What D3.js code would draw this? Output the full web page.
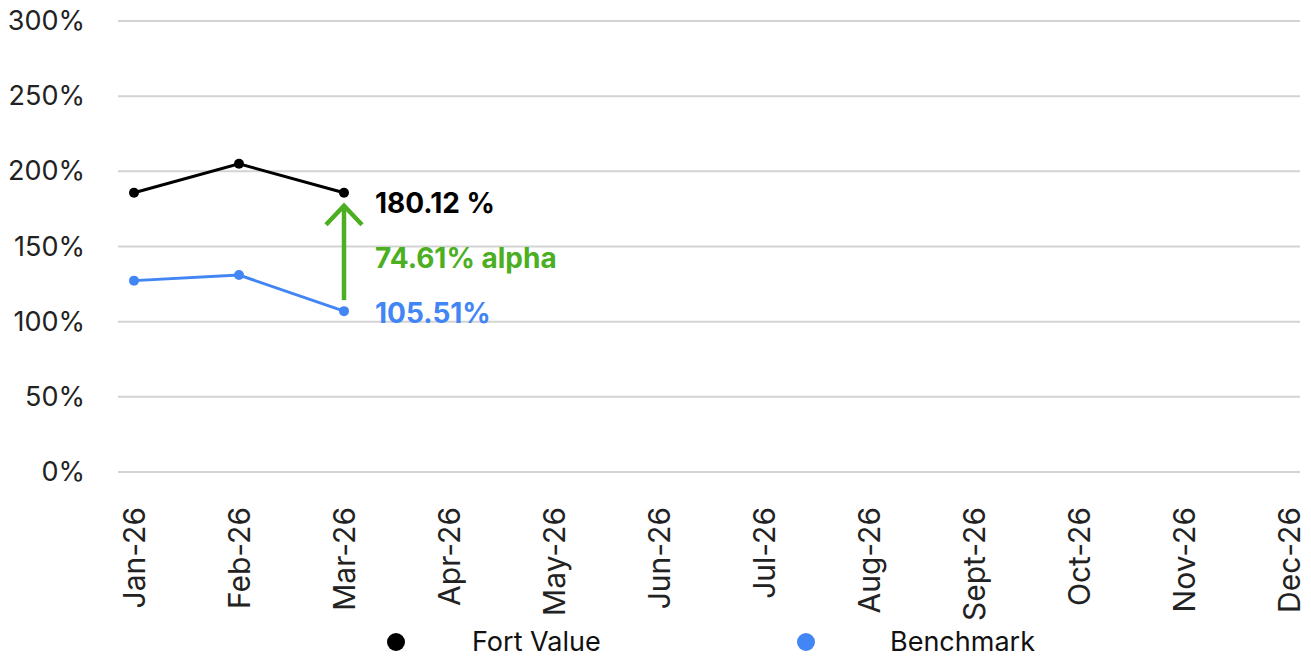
<!DOCTYPE html>
<html>
<head>
<script src="https://d3js.org/d3.v7.min.js"></script>
<style>
  body { margin: 0; background: #fff; }
  svg text { font-family: Inter, 'Noto Sans', sans-serif; }
</style>
</head>
<body>
<svg id="chart"></svg>
<script>
var months = ["Jan-26","Feb-26","Mar-26","Apr-26","May-26","Jun-26","Jul-26","Aug-26","Sept-26","Oct-26","Nov-26","Dec-26"];
var fortValue = [185.8, 205.0, 185.8];
var benchmark = [127.3, 131.0, 107.0];
var yTicks = [0, 50, 100, 150, 200, 250, 300];
var seriesNames = ["Fort Value", "Benchmark"];
var seriesColors = ["#000000", "#4285f4"];
var labels = ["180.12 %", "74.61% alpha", "105.51%"];
var alphaColor = "#4caf22";

var width = 1311, height = 659;
var svg = d3.select('#chart').attr('width', width).attr('height', height);

var x = d3.scalePoint().domain(months).range([134, 1289]);
var y = d3.scaleLinear().domain([0, 300]).range([472, 21]);

// gridlines
svg.append('g').selectAll('line')
  .data(yTicks).enter().append('line')
  .attr('x1', 118).attr('x2', 1300)
  .attr('y1', function(d) { return y(d); })
  .attr('y2', function(d) { return y(d); })
  .attr('stroke', '#d3d3d3').attr('stroke-width', 2);

// y axis
var yAxis = svg.append('g').attr('transform', 'translate(118,0)')
  .call(d3.axisLeft(y).tickValues(yTicks).tickSize(0).tickPadding(33).tickFormat(function(d) { return d + '%'; }));
yAxis.select('.domain').remove();
yAxis.selectAll('text').attr('font-size', 27).attr('fill', '#222').attr('font-family', 'Inter, sans-serif');

// x axis
var xAxis = svg.append('g').attr('transform', 'translate(0,472)')
  .call(d3.axisBottom(x).tickSize(0).tickPadding(0));
xAxis.select('.domain').remove();
xAxis.selectAll('text')
  .attr('font-size', 30).attr('fill', '#222')
  .attr('font-family', "'Liberation Sans', Arial, sans-serif")
  .attr('text-anchor', 'end')
  .attr('dy', '0.35em')
  .attr('transform', 'translate(0,35) rotate(-90)')
  .attr('y', 0).attr('x', 0);

var line = d3.line()
  .x(function(d, i) { return x(months[i]); })
  .y(function(d) { return y(d); });

[fortValue, benchmark].forEach(function(s, k) {
  svg.append('path').datum(s)
    .attr('d', line).attr('fill', 'none')
    .attr('stroke', seriesColors[k]).attr('stroke-width', 3);
  svg.selectAll(null).data(s).enter().append('circle')
    .attr('cx', function(d, i) { return x(months[i]); })
    .attr('cy', function(d) { return y(d); })
    .attr('r', 5).attr('fill', seriesColors[k]);
});

// alpha arrow
var last = fortValue.length - 1;
var ax = x(months[last]);
var yTop = y(fortValue[last]) + 13;
var yBot = y(benchmark[last]) - 11;
svg.append('line').attr('x1', ax).attr('x2', ax).attr('y1', yTop).attr('y2', yBot)
  .attr('stroke', alphaColor).attr('stroke-width', 4.5);
svg.append('path')
  .attr('d', 'M' + (ax - 18) + ',' + (yTop + 19) + 'L' + ax + ',' + yTop + 'L' + (ax + 18) + ',' + (yTop + 19))
  .attr('fill', 'none').attr('stroke', alphaColor).attr('stroke-width', 4.5);

// annotations
var lx = ax + 31;
svg.append('text').attr('x', lx).attr('y', 213).text(labels[0])
  .attr('font-size', 28).attr('font-weight', 700).attr('fill', '#000');
svg.append('text').attr('x', lx).attr('y', 268).text(labels[1])
  .attr('font-size', 28).attr('font-weight', 700).attr('fill', alphaColor);
svg.append('text').attr('x', lx).attr('y', 323).text(labels[2])
  .attr('font-size', 28).attr('font-weight', 700).attr('fill', seriesColors[1]);

// legend
var legendX = [396, 806];
var legend = svg.selectAll('.legend').data(seriesNames).enter().append('g')
  .attr('transform', function(d, i) { return 'translate(' + legendX[i] + ',642)'; });
legend.append('circle').attr('r', 9).attr('fill', function(d, i) { return seriesColors[i]; });
legend.append('text').attr('x', 76).attr('y', 9).text(function(d) { return d; })
  .attr('font-size', 27).attr('fill', '#111')
  .attr('font-family', "'Liberation Sans', Arial, sans-serif");
legend.select('text').filter(function(d, i) { return i === 1; }).attr('x', 84);
</script>
</body>
</html>
